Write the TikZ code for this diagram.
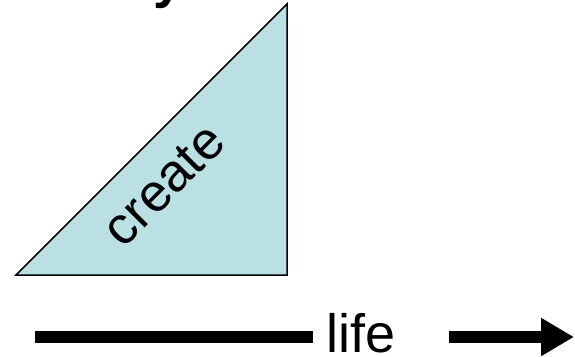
\documentclass[tikz,border=0pt]{standalone}
\usepackage{fontspec}
\setmainfont{Liberation Sans}
\usetikzlibrary{arrows.meta}
\definecolor{triblue}{RGB}{186,224,227}
\tikzset{
  bigtext/.style={inner sep=0pt, font=\fontsize{54}{60}\selectfont},
  thickbar/.style={line width=12pt},
}
\begin{document}
\begin{tikzpicture}[x=1pt,y=-1pt]
\clip (0,0) rectangle (575,356);
\useasboundingbox (0,0) rectangle (575,356);
% clipped title descender
\node[inner sep=0pt, anchor=base west, font=\fontsize{54}{60}\selectfont\bfseries] (title) at (153,-2) {y};
% triangle
\draw[fill=triblue, line width=1.5pt, line join=miter] (16,275) -- (287,275) -- (287,4) -- cycle;
\node[bigtext, font=\fontsize{53}{60}\selectfont, rotate=45] (create) at (164,185) {create};
% life timeline
\coordinate (ls) at (35,337);
\coordinate (le) at (313,337);
\node[bigtext, anchor=base west] (life) at (326,352) {life};
\coordinate (as) at (449,337);
\coordinate (ae) at (574,337);
\draw[thickbar] (ls) -- (le);
\draw[thickbar, -{Triangle[length=33pt, width=36pt]}] (as) -- (ae);
\end{tikzpicture}
\end{document}
